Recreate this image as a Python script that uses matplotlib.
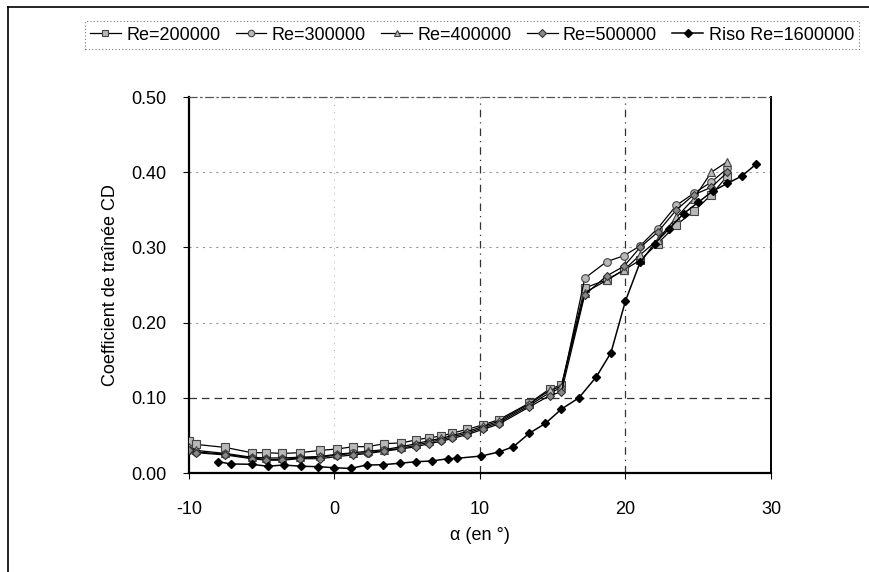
import matplotlib
matplotlib.use("Agg")
import matplotlib.pyplot as plt
from matplotlib.lines import Line2D

plt.rcParams['font.family'] = ['Liberation Sans', 'DejaVu Sans']
plt.rcParams['axes.unicode_minus'] = False

# ---- data ----
alpha_re = [-10, -9.5, -7.5, -5.7, -4.7, -3.6, -2.4, -1.0, 0.2, 1.3, 2.3, 3.4,
            4.6, 5.6, 6.5, 7.3, 8.1, 9.1, 10.2, 11.3, 13.4, 14.8, 15.6,
            17.2, 18.7, 19.9, 21.0, 22.2, 23.5, 24.7, 25.9, 27.0]

cd_re200 = [0.043, 0.038, 0.034, 0.027, 0.027, 0.026, 0.027, 0.030, 0.032, 0.035, 0.035, 0.039,
            0.040, 0.044, 0.047, 0.049, 0.053, 0.058, 0.064, 0.071, 0.093, 0.112, 0.117,
            0.246, 0.257, 0.270, 0.283, 0.305, 0.330, 0.348, 0.370, 0.395]
cd_re300 = [0.031, 0.028, 0.025, 0.020, 0.018, 0.018, 0.020, 0.021, 0.024, 0.026, 0.027, 0.030,
            0.033, 0.037, 0.041, 0.044, 0.048, 0.053, 0.060, 0.067, 0.090, 0.107, 0.113,
            0.259, 0.281, 0.289, 0.302, 0.325, 0.356, 0.372, 0.387, 0.405]
cd_re400 = [0.034, 0.030, 0.026, 0.021, 0.020, 0.020, 0.021, 0.022, 0.025, 0.027, 0.029, 0.031,
            0.035, 0.039, 0.043, 0.046, 0.050, 0.055, 0.062, 0.069, 0.092, 0.110, 0.115,
            0.240, 0.256, 0.270, 0.290, 0.310, 0.340, 0.365, 0.400, 0.414]
cd_re500 = [0.030, 0.027, 0.024, 0.019, 0.017, 0.017, 0.019, 0.019, 0.022, 0.024, 0.026, 0.029,
            0.032, 0.035, 0.039, 0.042, 0.046, 0.051, 0.058, 0.065, 0.088, 0.103, 0.108,
            0.237, 0.262, 0.275, 0.300, 0.320, 0.350, 0.370, 0.380, 0.400]

alpha_riso = [-8, -7.1, -5.7, -4.6, -3.5, -2.3, -1.1, 0.0, 1.1, 2.2, 3.3, 4.5, 5.6, 6.7,
              7.8, 8.4, 10.1, 11.3, 12.3, 13.4, 14.5, 15.6, 16.8, 18.0, 19.0, 20.0,
              21.0, 22.0, 23.0, 24.0, 25.0, 26.0, 27.0, 28.0, 29.0]
cd_riso = [0.015, 0.012, 0.0116, 0.009, 0.0106, 0.009, 0.0084, 0.007, 0.006, 0.0106, 0.011,
           0.013, 0.015, 0.016, 0.019, 0.0195, 0.0226, 0.028, 0.035, 0.053, 0.066, 0.085,
           0.100, 0.128, 0.160, 0.229, 0.280, 0.305, 0.325, 0.345, 0.360, 0.375, 0.385,
           0.395, 0.411]

labels = ["Re=200000", "Re=300000", "Re=400000", "Re=500000", "Riso Re=1600000"]

# ---- figure ----
fig = plt.figure(figsize=(8.7, 5.72), dpi=100)
ax = fig.add_axes([189/870, 1-473/572, (771-189)/870, (473-97)/572])

grey = '#b8b8b8'
ax.plot(alpha_re, cd_re200, '-', color='black', lw=0.9, marker='s', ms=5.5,
        mfc=grey, mec='#444444', mew=0.8, label=labels[0], zorder=3)
ax.plot(alpha_re, cd_re300, '-', color='black', lw=0.9, marker='o', ms=5.5,
        mfc=grey, mec='#444444', mew=0.8, label=labels[1], zorder=3)
ax.plot(alpha_re, cd_re400, '-', color='black', lw=0.9, marker='^', ms=5.5,
        mfc=grey, mec='#444444', mew=0.8, label=labels[2], zorder=3)
ax.plot(alpha_re, cd_re500, '-', color='black', lw=0.9, marker='D', ms=4.5,
        mfc='#888888', mec='#333333', mew=0.8, label=labels[3], zorder=3)
ax.plot(alpha_riso, cd_riso, '-', color='black', lw=1.1, marker='D', ms=4.5,
        mfc='black', mec='black', label=labels[4], zorder=4)

ax.set_xlim(-10, 30)
ax.set_ylim(0, 0.5)
ax.set_xticks([-10, 0, 10, 20, 30])
ax.set_yticks([0, 0.1, 0.2, 0.3, 0.4, 0.5])
ax.set_yticklabels([f"{v:.2f}" for v in [0, 0.1, 0.2, 0.3, 0.4, 0.5]])
ax.tick_params(labelsize=13, length=4, direction='out', width=0.8)
ax.tick_params(axis='x', pad=16)
ax.tick_params(axis='y', pad=12)

# gridlines
for y in [0.2, 0.3, 0.4]:
    ax.axhline(y, color='#999999', lw=0.8, ls=(0, (2, 4)), zorder=1)
ax.axhline(0.1, color='#333333', lw=0.9, ls=(0, (6, 4)), zorder=1)
ax.axvline(0, color='#aaaaaa', lw=0.7, ls=(0, (1, 6)), zorder=1)
for x in [10, 20]:
    ax.axvline(x, color='#333333', lw=0.9, ls=(0, (6, 4, 1, 4)), zorder=1)

for s in ['left', 'bottom']:
    ax.spines[s].set_linewidth(1.6)
ax.spines['right'].set_linewidth(1.4)
ax.spines['top'].set_linewidth(0.9)
ax.spines['top'].set_color('#555555')
ax.spines['top'].set_linestyle((0, (6, 3, 1, 3)))

ax.set_ylabel("Coefficient de traînée CD", fontsize=13, labelpad=9)
ax.set_xlabel("α (en °)", fontsize=13, labelpad=7)

leg = fig.legend(loc='center', bbox_to_anchor=(472/870, 1-35/572), ncol=5,
                 fontsize=13, frameon=True, fancybox=False, handlelength=1.7,
                 handletextpad=0.3, columnspacing=0.85, borderpad=0.3,
                 markerscale=0.85)
leg.get_frame().set_edgecolor('#555555')
leg.get_frame().set_linestyle((0, (1, 2)))
leg.get_frame().set_linewidth(0.8)

# outer frame (left and top edges visible)
fig.add_artist(Line2D([8/870, 8/870], [0, 1-7/572], transform=fig.transFigure,
                      color='black', lw=1.2))
fig.add_artist(Line2D([8/870, 1], [1-7/572, 1-7/572], transform=fig.transFigure,
                      color='black', lw=1.2))

fig.savefig("out.png", dpi=100)
